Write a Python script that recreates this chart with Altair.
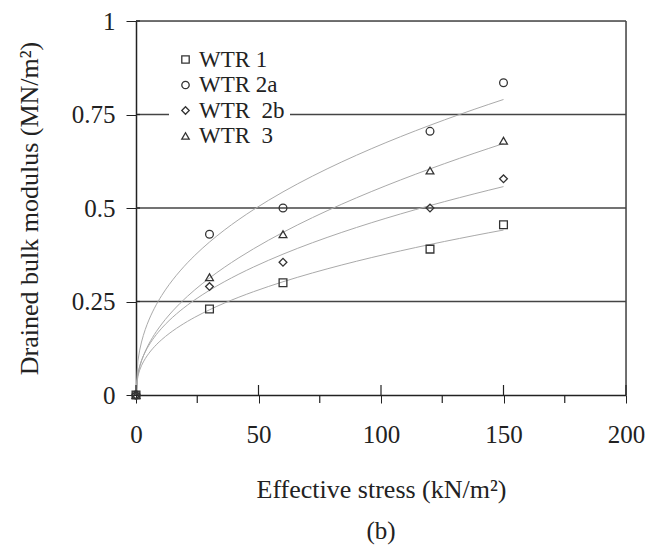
import altair as alt
import pandas as pd

series = ["WTR 1", "WTR 2a", "WTR\u00a0\u00a02b", "WTR\u00a0\u00a03"]
stress = [0, 30, 60, 120, 150]
wtr1 = [0.0, 0.23, 0.30, 0.39, 0.455]
wtr2a = [0.0, 0.43, 0.50, 0.705, 0.835]
wtr2b = [0.0, 0.29, 0.355, 0.50, 0.578]
wtr3 = [0.0, 0.315, 0.43, 0.60, 0.68]

x_major = [0, 50, 100, 150, 200]
x_minor = [25, 75, 125, 175]
y_ticks = [0, 0.25, 0.5, 0.75, 1]
y_grid = [0.25, 0.5, 0.75, 1]

rows = []
for name, vals in zip(series, [wtr1, wtr2a, wtr2b, wtr3]):
    for s, v in zip(stress, vals):
        rows.append({"series": name, "x": s, "y": v})
df = pd.DataFrame(rows)

W, H = 490, 374
FONT = "Liberation Serif"
DARK = "#333333"
TXT = "#222222"

xs = alt.Scale(domain=[0, 200], nice=False)
ys = alt.Scale(domain=[0, 1], nice=False)

grid = alt.Chart(pd.DataFrame({"g": y_grid})).mark_rule(color="#444444", strokeWidth=1.5).encode(
    y=alt.Y("g:Q", scale=ys)
)
right = alt.Chart(pd.DataFrame({"r": [200]})).mark_rule(color="#444444", strokeWidth=1.5).encode(
    x=alt.X("r:Q", scale=xs)
)
minor = alt.Chart(pd.DataFrame({"m": x_minor})).mark_rule(color=TXT, strokeWidth=1.2).encode(
    x=alt.X("m:Q", scale=xs), y=alt.value(H), y2=alt.value(H + 8)
)
major_in = alt.Chart(pd.DataFrame({"m": x_major})).mark_rule(color=TXT, strokeWidth=1.2).encode(
    x=alt.X("m:Q", scale=xs), y=alt.value(H - 10), y2=alt.value(H)
)
y_in = alt.Chart(pd.DataFrame({"t": y_ticks})).mark_rule(color=TXT, strokeWidth=1.2).encode(
    y=alt.Y("t:Q", scale=ys), x=alt.value(0), x2=alt.value(4)
)

curves = alt.Chart(df).transform_filter("datum.x > 0").transform_regression(
    "x", "y", groupby=["series"], method="pow", extent=[0, 150]
).mark_line(color="#aaaaaa", strokeWidth=1).encode(
    x=alt.X("x:Q", scale=xs),
    y=alt.Y("y:Q", scale=ys),
    detail="series:N",
)

points = alt.Chart(df).mark_point(filled=False, color=DARK, strokeWidth=1.3, size=60, opacity=1).encode(
    x=alt.X(
        "x:Q", scale=xs,
        axis=alt.Axis(values=x_major, labelExpr="datum.value", title="Effective stress (kN/m²)", grid=False,
                      tickSize=8, tickColor=TXT, domainColor=TXT, domainWidth=1.5,
                      labelFont=FONT, labelFontSize=25, labelColor=TXT, labelPadding=19,
                      labelFlush=False, labelOverlap=False,
                      titleFont=FONT, titleFontSize=26, titleFontWeight="normal", titleColor=TXT,
                      titlePadding=29),
    ),
    y=alt.Y(
        "y:Q", scale=ys,
        axis=alt.Axis(values=y_ticks, labelExpr="datum.value", title="Drained bulk modulus (MN/m²)", grid=False,
                      tickSize=10, tickColor=TXT, domainColor=TXT, domainWidth=1.5,
                      labelFont=FONT, labelFontSize=25, labelColor=TXT, labelPadding=11,
                      labelFlush=False, labelOverlap=False,
                      titleFont=FONT, titleFontSize=26, titleFontWeight="normal", titleColor=TXT,
                      titlePadding=29),
    ),
    shape=alt.Shape(
        "series:N",
        scale=alt.Scale(domain=series, range=["square", "circle", "diamond", "triangle-up"]),
        legend=alt.Legend(title=None, orient="none", legendX=33, legendY=22,
                          fillColor="white", padding=5, labelFont=FONT, labelFontSize=23,
                          labelColor=TXT, rowPadding=1.5, labelOffset=2,
                          symbolStrokeColor=DARK, symbolFillColor="transparent",
                          symbolStrokeWidth=1.3, symbolSize=55),
    ),
)

chart = alt.layer(grid, right, curves, minor, major_in, y_in, points).properties(
    width=W, height=H,
    title=alt.TitleParams("(b)", orient="bottom", anchor="middle", font=FONT, fontSize=25,
                          fontWeight="normal", color=TXT, offset=17),
    autosize=alt.AutoSizeParams(type="none"),
    padding={"left": 128, "top": 13, "right": 20, "bottom": 150},
).configure_view(stroke=None).configure(background="white")

chart.save("out.html", embed_options={"renderer": "svg", "actions": False})
